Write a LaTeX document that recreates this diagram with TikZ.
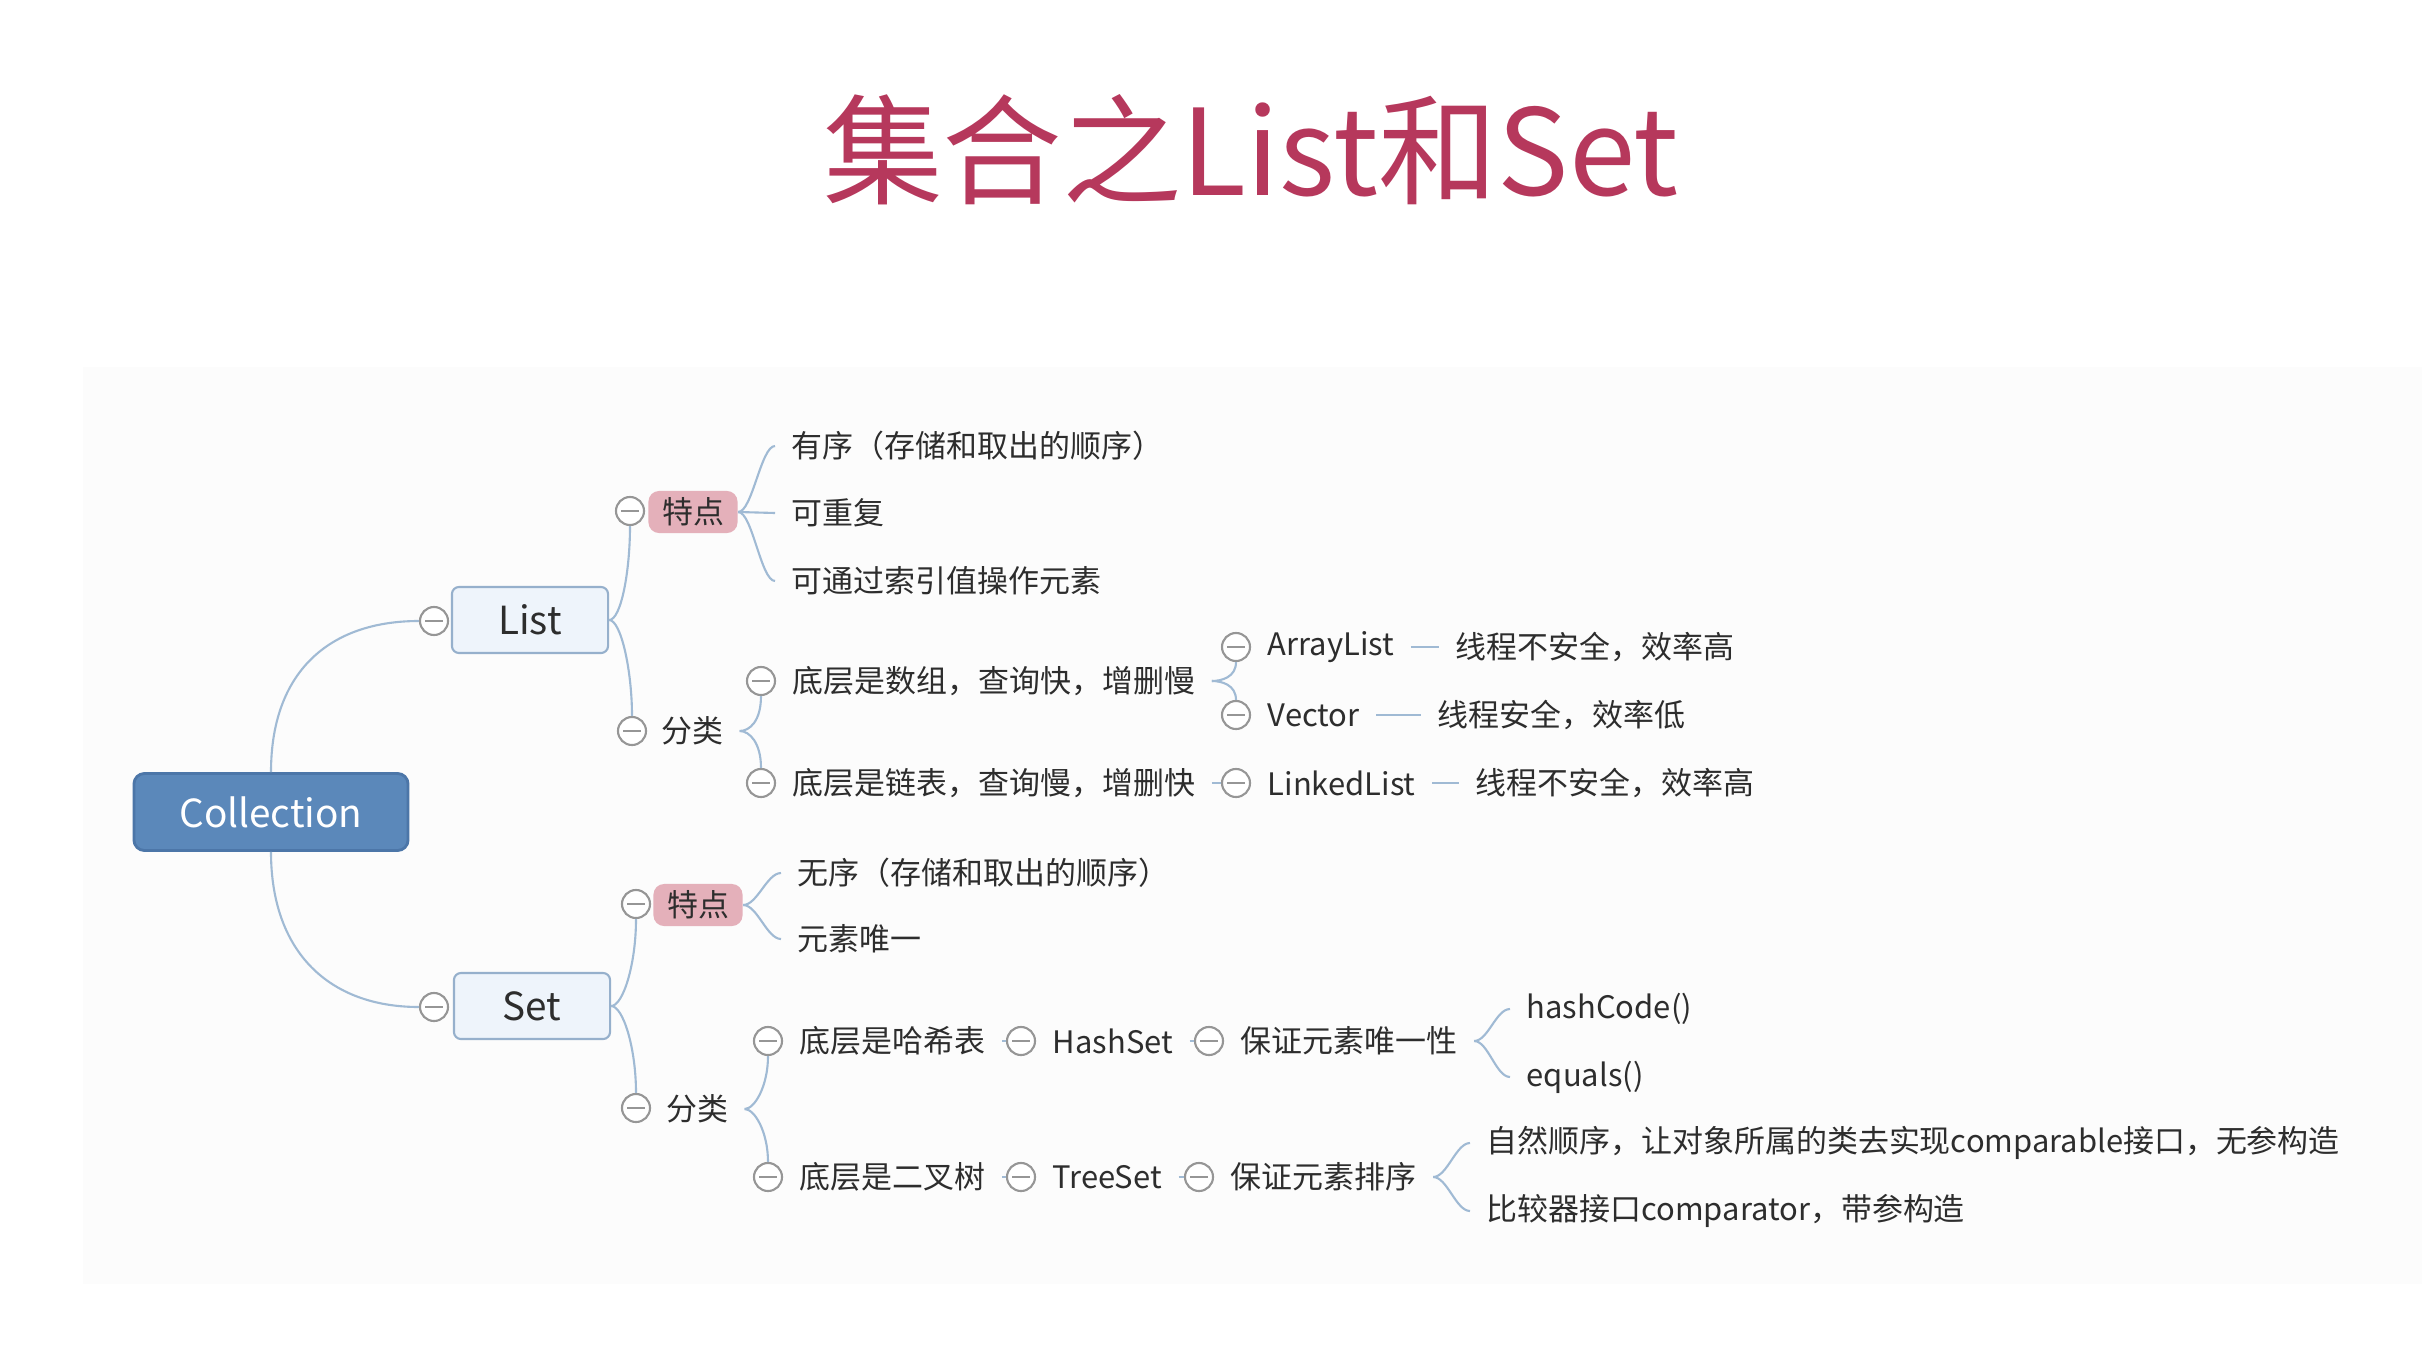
\documentclass[tikz,border=0pt]{standalone}
\usepackage{fontspec}
\setmainfont{Noto Sans CJK SC}

\definecolor{branchblue}{RGB}{160,186,212}
\definecolor{foldgray}{RGB}{150,150,150}
\definecolor{rootblue}{RGB}{91,136,186}
\definecolor{rootedge}{RGB}{76,118,168}
\definecolor{mainfill}{RGB}{238,244,251}
\definecolor{mainedge}{RGB}{150,176,204}
\definecolor{tagpink}{RGB}{228,176,186}
\definecolor{titlered}{RGB}{182,56,92}
\definecolor{inktext}{RGB}{45,45,45}
\definecolor{panelgray}{RGB}{252,252,252}

\newcommand{\bodysize}{\fontsize{8.8}{10}\selectfont}

\tikzset{
  fold/.style={circle, draw=foldgray, fill=white, line width=0.6pt, minimum size=2.8mm, inner sep=0pt,
    path picture={\draw[foldgray, line width=0.6pt] ([xshift=0.5mm]path picture bounding box.west) -- ([xshift=-0.5mm]path picture bounding box.east);}},
  branch/.style={draw=branchblue, line width=0.6pt},
  root/.style={rounded corners=3pt, fill=rootblue, draw=rootedge, line width=0.8pt, text=white,
    minimum width=2.74cm, minimum height=0.77cm, font=\fontsize{11}{13}\selectfont},
  mainbox/.style={rounded corners=2pt, fill=mainfill, draw=mainedge, line width=0.6pt, text=inktext,
    minimum width=1.56cm, minimum height=0.66cm, font=\fontsize{11}{13}\selectfont},
  tag/.style={rounded corners=3pt, fill=tagpink, text=inktext, minimum width=0.89cm, minimum height=0.42cm,
    inner sep=0pt, font=\bodysize},
  plain/.style={inner xsep=1.6mm, inner ysep=1pt, text=inktext, font=\bodysize},
  topic/.style={anchor=west, inner xsep=1.6mm, inner ysep=1pt, text=inktext, font=\bodysize},
  leaf/.style={anchor=west, inner xsep=1.6mm, inner ysep=1pt, text=inktext, font=\bodysize}
}

\begin{document}
\begin{tikzpicture}[x=0.01cm, y=-0.01cm]
    \useasboundingbox (0,0) rectangle (2422,1364);

    % Panel
    \fill[panelgray] (83,367) rectangle (2422,1284);

    % Title
    \node[font=\fontsize{34}{40}\selectfont, text=titlered] (title) at (1251,150) {集合之List和Set};

    % Root
    \node[root] (coll) at (271,812) {Collection};

    % List
    \node[fold] (flist) at (434,621) {};
    \node[mainbox] (list) at (530,620) {List};

    \node[fold] (flt) at (630,511) {};
    \node[tag] (lt) at (693,512) {特点};
    \node[leaf] (lt1) at (775,446) {有序（存储和取出的顺序）};
    \node[leaf] (lt2) at (775,513) {可重复};
    \node[leaf] (lt3) at (775,581) {可通过索引值操作元素};

    \node[fold] (flf) at (632,731) {};
    \node[plain] (lf) at (692,731) {分类};
    \node[fold] (fla) at (761,681) {};
    \node[topic] (la) at (fla.east) {底层是数组，查询快，增删慢};
    \node[fold] (fll) at (761,783) {};
    \node[topic] (ll) at (fll.east) {底层是链表，查询慢，增删快};

    \node[fold] (fal) at (1236,647) {};
    \node[topic] (al) at (fal.east) {ArrayList};
    \node[leaf] (aln) at (1439,647) {线程不安全，效率高};
    \node[fold] (fve) at (1236,715) {};
    \node[topic] (ve) at (fve.east) {Vector};
    \node[leaf] (ven) at (1421,715) {线程安全，效率低};
    \node[fold] (fli) at (1236,783) {};
    \node[topic] (li) at (fli.east) {LinkedList};
    \node[leaf] (lin) at (1459,783) {线程不安全，效率高};

    % Set
    \node[fold] (fset) at (434,1007) {};
    \node[mainbox] (set) at (532,1006) {Set};

    \node[fold] (fst) at (636,904) {};
    \node[tag] (st) at (698,905) {特点};
    \node[leaf] (st1) at (781,873) {无序（存储和取出的顺序）};
    \node[leaf] (st2) at (781,939) {元素唯一};

    \node[fold] (fsf) at (636,1108) {};
    \node[plain] (sf) at (697,1109) {分类};
    \node[fold] (fsh) at (768,1041) {};
    \node[topic] (sh) at (fsh.east) {底层是哈希表};
    \node[fold] (fhs) at (1021,1041) {};
    \node[topic] (hs) at (fhs.east) {HashSet};
    \node[fold] (fhu) at (1209,1041) {};
    \node[topic] (hu) at (fhu.east) {保证元素唯一性};
    \node[leaf] (hu1) at (1510,1009) {hashCode()};
    \node[leaf] (hu2) at (1510,1077) {equals()};

    \node[fold] (fsb) at (768,1177) {};
    \node[topic] (sb) at (fsb.east) {底层是二叉树};
    \node[fold] (fts) at (1021,1177) {};
    \node[topic] (ts) at (fts.east) {TreeSet};
    \node[fold] (ftu) at (1199,1177) {};
    \node[topic] (tu) at (ftu.east) {保证元素排序};
    \node[leaf] (tu1) at (1470,1143) {自然顺序，让对象所属的类去实现comparable接口，无参构造};
    \node[leaf] (tu2) at (1470,1211) {比较器接口comparator，带参构造};

    % Branches
    \draw[branch] (coll.north) .. controls +(0,-100) and +(-90,0) .. (flist.west);
    \draw[branch] (coll.south) .. controls +(0,100) and +(-90,0) .. (fset.west);

    \draw[branch] (list.east) .. controls +(12,0) and +(0,45) .. (flt.south);
    \draw[branch] (list.east) .. controls +(12,0) and +(0,-45) .. (flf.north);
    \draw[branch] (lt.east) .. controls +(14,0) and +(-14,0) .. (lt1.west);
    \draw[branch] (lt.east) -- (lt2.west);
    \draw[branch] (lt.east) .. controls +(14,0) and +(-14,0) .. (lt3.west);
    \draw[branch] (lf.east) .. controls +(10,0) and +(0,25) .. (fla.south);
    \draw[branch] (lf.east) .. controls +(10,0) and +(0,-25) .. (fll.north);
    \draw[branch] (la.east) .. controls +(10,0) and +(0,15) .. (fal.south);
    \draw[branch] (la.east) .. controls +(10,0) and +(0,-15) .. (fve.north);
    \draw[branch] (al.east) -- (aln.west);
    \draw[branch] (ve.east) -- (ven.west);
    \draw[branch] (ll.east) -- (fli.west);
    \draw[branch] (li.east) -- (lin.west);

    \draw[branch] (set.east) .. controls +(12,0) and +(0,45) .. (fst.south);
    \draw[branch] (set.east) .. controls +(12,0) and +(0,-45) .. (fsf.north);
    \draw[branch] (st.east) .. controls +(14,0) and +(-14,0) .. (st1.west);
    \draw[branch] (st.east) .. controls +(14,0) and +(-14,0) .. (st2.west);
    \draw[branch] (sf.east) .. controls +(10,0) and +(0,30) .. (fsh.south);
    \draw[branch] (sf.east) .. controls +(10,0) and +(0,-30) .. (fsb.north);
    \draw[branch] (sh.east) -- (fhs.west);
    \draw[branch] (hs.east) -- (fhu.west);
    \draw[branch] (hu.east) .. controls +(14,0) and +(-14,0) .. (hu1.west);
    \draw[branch] (hu.east) .. controls +(14,0) and +(-14,0) .. (hu2.west);
    \draw[branch] (sb.east) -- (fts.west);
    \draw[branch] (ts.east) -- (ftu.west);
    \draw[branch] (tu.east) .. controls +(14,0) and +(-14,0) .. (tu1.west);
    \draw[branch] (tu.east) .. controls +(14,0) and +(-14,0) .. (tu2.west);
  \end{tikzpicture}
\end{document}
